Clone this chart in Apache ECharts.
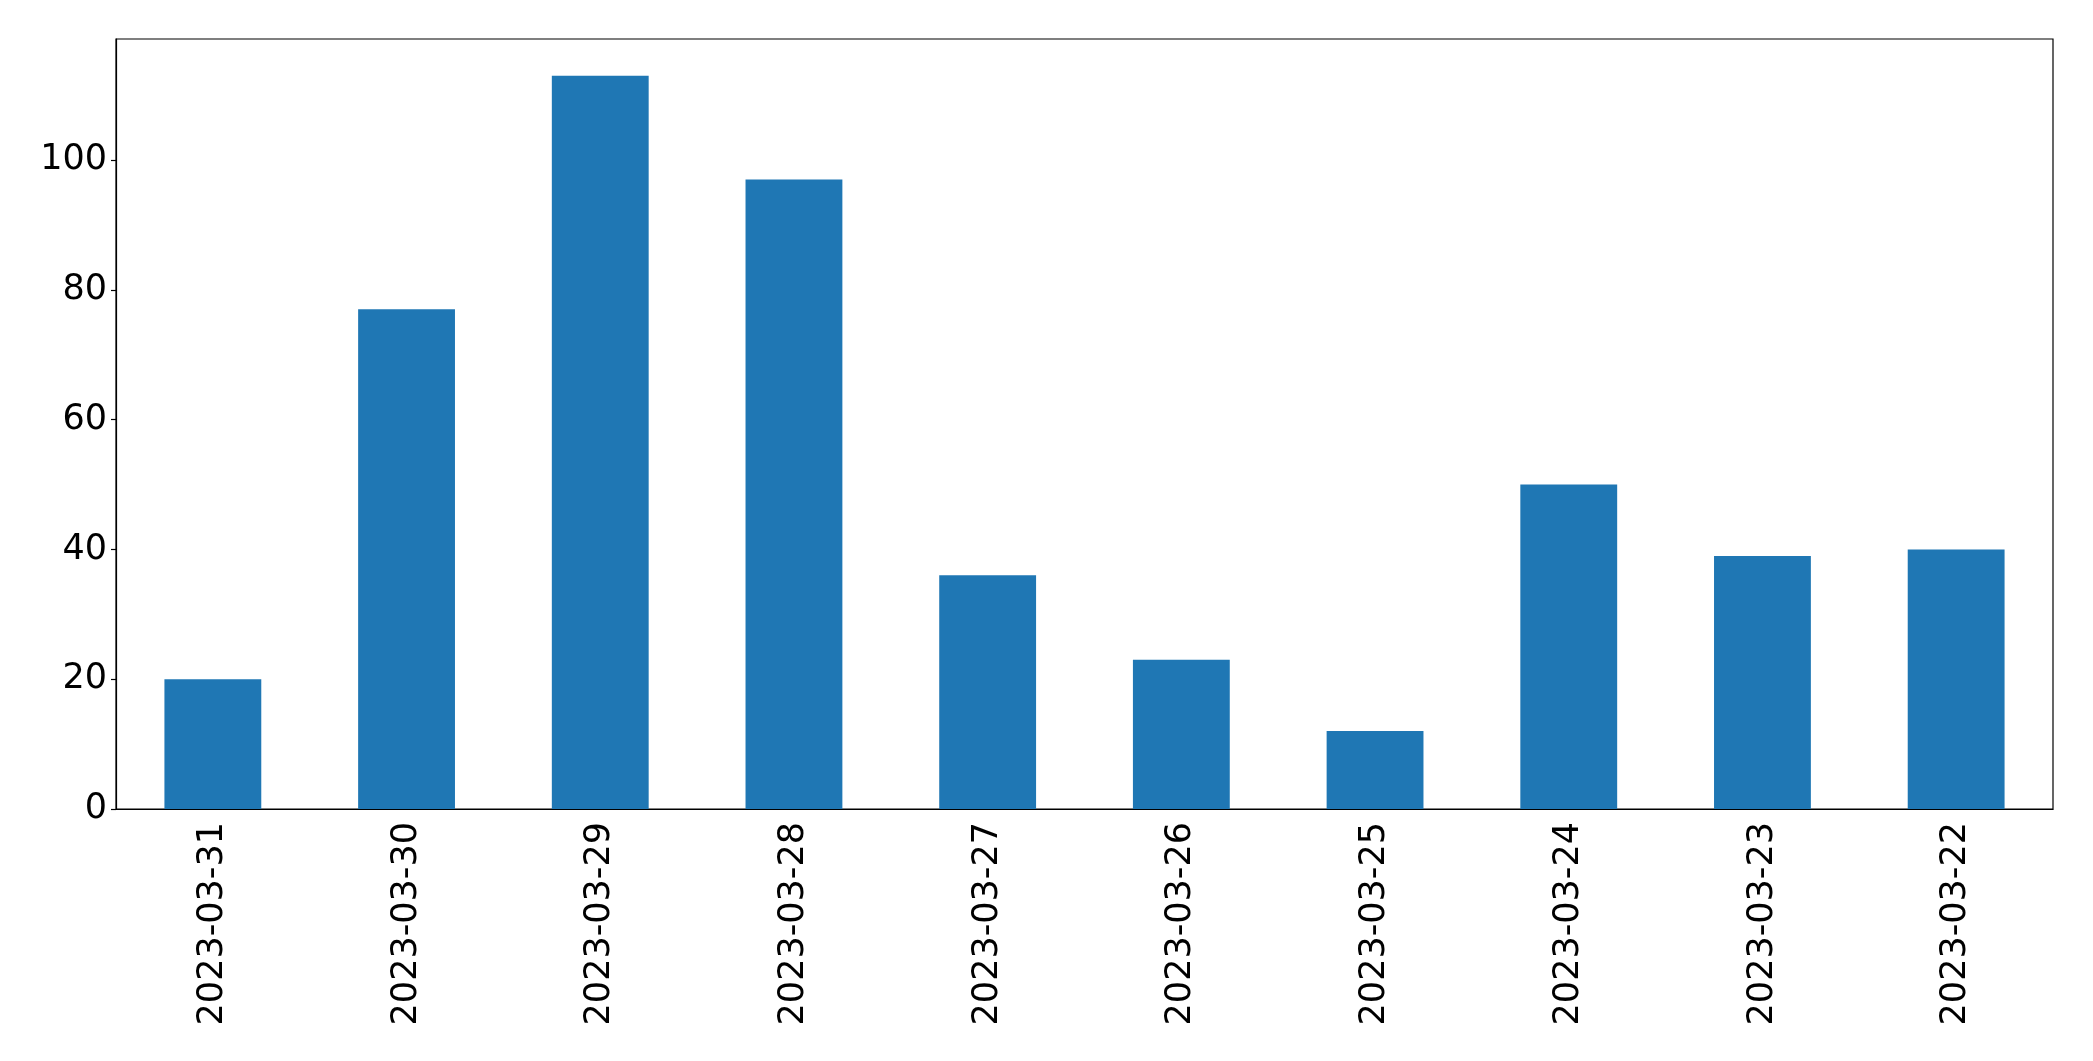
<!DOCTYPE html>
<html>
<head>
<meta charset="utf-8">
<script src="https://cdn.jsdelivr.net/npm/echarts@6/dist/echarts.min.js"></script>
<style>html,body{margin:0;padding:0;background:#fff;}#c{width:2093px;height:1061px;}</style>
</head>
<body>
<div id="c"></div>
<script>
const categories = ['2023-03-31','2023-03-30','2023-03-29','2023-03-28','2023-03-27','2023-03-26','2023-03-25','2023-03-24','2023-03-23','2023-03-22'];
const values = [20, 77, 113, 97, 36, 23, 12, 50, 39, 40];
const yTicks = [0, 20, 40, 60, 80, 100];

const chart = echarts.init(document.getElementById('c'), null, {renderer: 'canvas'});
const font = 'DejaVu Sans';
chart.setOption({
  animation: false,
  backgroundColor: '#fff',
  grid: {left: 116, right: 40, top: 39, bottom: 252, show: true, borderColor: '#000', borderWidth: 1.2, containLabel: false},
  xAxis: {
    type: 'category',
    data: categories,
    axisLine: {lineStyle: {color: '#000', width: 1.2}},
    axisTick: {alignWithLabel: true, length: 5, lineStyle: {color: '#000', width: 1.2}},
    axisLabel: {rotate: 90, color: '#000', fontFamily: font, fontSize: 35, margin: 13}
  },
  yAxis: {
    type: 'value',
    min: 0,
    max: Math.max(...values) * 1.05,
    interval: 20,
    splitLine: {show: false},
    axisLine: {show: true, lineStyle: {color: '#000', width: 1.2}},
    axisTick: {show: true, length: 5, lineStyle: {color: '#000', width: 1.2}, customValues: yTicks},
    axisLabel: {color: '#000', fontFamily: font, fontSize: 35, margin: 9, customValues: yTicks}
  },
  series: [{
    type: 'bar',
    data: values,
    barWidth: '50%',
    itemStyle: {color: '#1f77b4'}
  }]
});
</script>
</body>
</html>
